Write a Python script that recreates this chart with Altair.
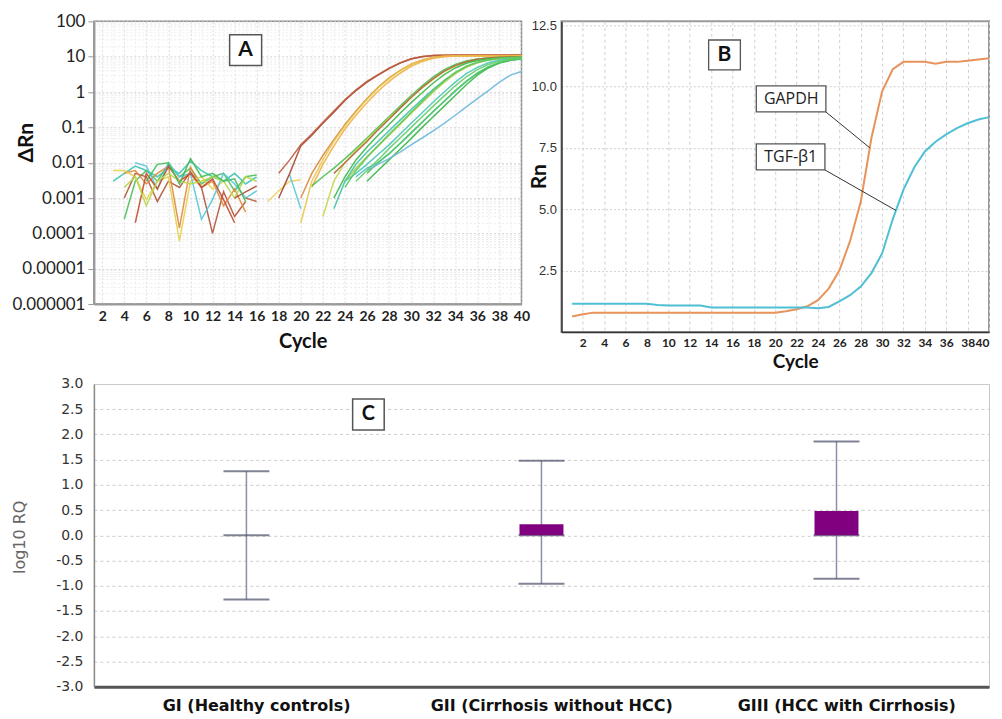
import altair as alt
import pandas as pd

# ---------------- Panel A : amplification plot (log dRn) ----------------
amp_names = ["a1", "a2", "a3", "a4", "a5", "a6", "a7", "a8", "a9", "a10",
             "a11", "a12", "a13", "a14", "a15", "a16", "a17", "a18"]
amp_start = [18, 18, 20, 20, 21, 21, 22, 23, 23, 23, 24, 24, 24, 25, 26, 26, 26, 25]
amp_values = [
    [0.001, 0.005, 0.03, 0.06, 0.13, 0.27, 0.58, 1.1, 1.9, 3.0, 4.6, 6.6, 8.6, 10.0, 10.8, 11.0, 11.0, 10.9, 10.9, 10.9, 10.9, 10.9, 10.9],
    [0.005, 0.012, 0.032, 0.065, 0.14, 0.29, 0.6, 1.15, 2.0, 3.1, 4.7, 6.7, 8.7, 10.1, 10.8, 11.0, 11.1, 11.1, 11.1, 11.1, 11.1, 11.1, 11.1],
    [0.001, 0.005, 0.016, 0.045, 0.12, 0.29, 0.65, 1.35, 2.5, 4.1, 6.1, 8.1, 9.6, 10.4, 10.7, 10.8, 10.8, 10.8, 10.8, 10.8, 10.8],
    [0.0002, 0.003, 0.012, 0.04, 0.11, 0.27, 0.62, 1.3, 2.4, 4.0, 6.0, 8.0, 9.5, 10.3, 10.6, 10.7, 10.7, 10.7, 10.7, 10.7, 10.7],
    [0.002, 0.009, 0.03, 0.09, 0.22, 0.5, 1.05, 2.0, 3.4, 5.3, 7.3, 9.0, 10.0, 10.4, 10.5, 10.5, 10.5, 10.5, 10.5, 10.5],
    [0.0022, 0.004, 0.007, 0.013, 0.025, 0.05, 0.1, 0.2, 0.4, 0.8, 1.5, 2.7, 4.3, 6.0, 7.5, 8.6, 9.2, 9.5, 9.6, 9.6],
    [0.0003, 0.003, 0.01, 0.022, 0.045, 0.09, 0.18, 0.35, 0.7, 1.3, 2.3, 3.8, 5.5, 7.1, 8.3, 9.0, 9.4, 9.6, 9.6],
    [0.005, 0.01, 0.02, 0.04, 0.085, 0.17, 0.35, 0.7, 1.35, 2.4, 3.9, 5.6, 7.2, 8.4, 9.2, 9.6, 9.8, 9.8],
    [0.0005, 0.003, 0.009, 0.02, 0.04, 0.08, 0.16, 0.32, 0.62, 1.2, 2.1, 3.5, 5.2, 6.8, 8.0, 8.8, 9.2, 9.4],
    [0.001, 0.004, 0.012, 0.028, 0.06, 0.12, 0.25, 0.5, 0.95, 1.8, 3.1, 4.8, 6.5, 7.8, 8.7, 9.2, 9.5, 9.6],
    [0.003, 0.007, 0.015, 0.03, 0.06, 0.12, 0.25, 0.5, 1.0, 1.9, 3.3, 5.0, 6.7, 8.0, 8.8, 9.3, 9.5],
    [0.003, 0.005, 0.009, 0.017, 0.032, 0.065, 0.13, 0.26, 0.52, 1.0, 1.9, 3.3, 5.0, 6.7, 7.9, 8.7, 9.1],
    [0.002, 0.006, 0.014, 0.03, 0.065, 0.13, 0.27, 0.55, 1.1, 2.1, 3.6, 5.4, 7.0, 8.2, 9.0, 9.4, 9.6],
    [0.004, 0.007, 0.01, 0.018, 0.035, 0.07, 0.14, 0.28, 0.55, 1.05, 2.0, 3.4, 5.1, 6.7, 7.9, 8.6],
    [0.003, 0.006, 0.012, 0.024, 0.048, 0.1, 0.2, 0.4, 0.8, 1.6, 3.0, 4.8, 6.6, 7.9, 8.7],
    [0.005, 0.01, 0.018, 0.035, 0.07, 0.14, 0.28, 0.55, 1.1, 2.0, 3.4, 5.1, 6.8, 8.0, 8.8],
    [0.006, 0.009, 0.013, 0.02, 0.032, 0.05, 0.08, 0.13, 0.22, 0.38, 0.65, 1.1, 1.9, 3.0, 3.8],
    [0.003, 0.006, 0.012, 0.025, 0.05, 0.1, 0.2, 0.4, 0.78, 1.5, 2.7, 4.3, 6.0, 7.4, 8.4, 9.0],
]
amp_colors = ["#a8452f", "#bf5b3e", "#d98a3a", "#e6c64a", "#efb042", "#4cbf52",
              "#c6d64e", "#b0663c", "#3fc0a6", "#38b848", "#a6cf44", "#48c6b2",
              "#5cc860", "#4fbfc6", "#36b646", "#52c65a", "#6cb8dc", "#66cc66"]

base_names = ["b1", "b2", "b3", "b4", "b5", "b6", "b7", "b8", "b9", "b10", "b11", "b12", "b13"]
base_start = [3, 4, 4, 4, 3, 5, 5, 4, 14, 15, 6, 17, 19]
base_values = [
    [0.003, 0.005, 0.008, 0.006, 0.004, 0.007, 0.005, 0.011, 0.006, 0.004, 0.003, 0.005, 0.0025, 0.004],
    [0.00025, 0.003, 0.006, 0.003, 0.009, 0.004, 0.007, 0.0025, 0.004, 0.005, 0.0016, 0.004, 0.0045],
    [0.001, 0.005, 0.004, 0.0008, 0.003, 0.002, 0.0055, 0.002, 0.0001, 0.0015, 0.0003, 0.0008],
    [0.005, 0.006, 0.0025, 0.005, 0.008, 0.00014, 0.0075, 0.002, 0.003, 0.0006, 0.0018, 0.0004],
    [0.006, 0.006, 0.004, 0.0009, 0.003, 0.004, 0.00006, 0.003, 0.004, 0.0018, 0.003],
    [0.01, 0.008, 0.0018, 0.01, 0.004, 0.005, 0.00025, 0.0009, 0.005, 0.0025, 0.001, 0.0016],
    [0.0002, 0.005, 0.0018, 0.008, 0.003, 0.005, 0.002, 0.0035, 0.0009, 0.0002],
    [0.002, 0.004, 0.0006, 0.003, 0.005, 0.003, 0.0025, 0.003, 0.004, 0.003, 0.001, 0.004, 0.003],
    [0.001, 0.0015, 0.0022],
    [0.001, 0.0008],
    [0.003, 0.009, 0.01, 0.0025, 0.013, 0.004, 0.005, 0.003, 0.0035, 0.0008],
    [0.0008, 0.0016, 0.003, 0.0033],
    [0.0045, 0.0005],
]
base_colors = ["#3cc4b4", "#4cbf5a", "#b0553a", "#e08a3c", "#e6d04c", "#58c6d8", "#c24a2e",
               "#b6d64e", "#a84c30", "#b06040", "#44bb55", "#f0d060", "#5cc8d8"]

# ---------------- Panel B : Rn curves ----------------
cycles_B = list(range(1, 41))
gapdh = [0.63, 0.72, 0.79, 0.79, 0.79, 0.79, 0.79, 0.79, 0.79, 0.79,
         0.79, 0.79, 0.79, 0.79, 0.79, 0.79, 0.79, 0.79, 0.79, 0.79,
         0.85, 0.93, 1.05, 1.3, 1.77, 2.5, 3.7, 5.3, 7.9, 9.8,
         10.7, 11.0, 11.0, 11.0, 10.92, 11.0, 11.0, 11.05, 11.1, 11.15]
tgfb1 = [1.15, 1.15, 1.15, 1.15, 1.15, 1.15, 1.15, 1.15, 1.1, 1.08,
         1.08, 1.08, 1.08, 1.0, 1.0, 1.0, 1.0, 1.0, 1.0, 1.0,
         1.0, 1.0, 1.0, 0.97, 1.02, 1.25, 1.5, 1.85, 2.4, 3.2,
         4.6, 5.8, 6.7, 7.35, 7.75, 8.05, 8.3, 8.5, 8.65, 8.75]
genes = ["GAPDH", "TGF-β1"]

# ---------------- Panel C : log10 RQ ----------------
groups = ["GI (Healthy controls)", "GII (Cirrhosis without HCC)", "GIII (HCC with Cirrhosis)"]
log_rq = [0.0, 0.22, 0.48]
err_low = [-1.27, -0.96, -0.86]
err_high = [1.27, 1.48, 1.86]

# ======================================================================
W_TOP = 428
rows = []
for name, start, vals in zip(base_names + amp_names, base_start + amp_start, base_values + amp_values):
    for i, v in enumerate(vals):
        rows.append({"trace": name, "cycle": start + i, "drn": v})
dfA = pd.DataFrame(rows)

decade = "abs(log(datum.value)/LN10 - round(log(datum.value)/LN10)) < 0.01"
yA_ticks = [m * 10.0 ** e for e in range(-6, 2) for m in range(1, 10)] + [100.0]

scale_xA = alt.Scale(domain=[1.25, 40], nice=False, zero=False)
axis_xA = alt.Axis(values=list(range(2, 41)),
                   labelExpr="datum.value % 2 == 0 ? '' + datum.value : ''",
                   labelFont="Lato", labelFontWeight="bold", labelFontSize=14,
                   labelColor="#222", labelPadding=5, labelOverlap=False, labelFlush=False, ticks=False,
                   gridColor={"condition": {"test": "datum.value % 2 == 0", "value": "#dcdcdc"}, "value": "#eeeeee"},
                   gridDash=[2, 2], domainColor="#9a9a9a", domainWidth=2,
                   title="Cycle", titleFont="Lato", titleFontSize=20, titleFontWeight="bold",
                   titleColor="#111", titleX=209, titleY=37, titleAlign="center", titleBaseline="middle")
scale_yA = alt.Scale(type="log", domain=[1e-6, 100], nice=False)
axis_yA = alt.Axis(values=yA_ticks,
                   labelExpr=decade + " ? format(datum.value, '.6~f') : ''",
                   labelFont="Lato", labelFontSize=17, labelColor="#222", labelPadding=3,
                   labelOverlap=False,
                   tickSize={"condition": {"test": decade, "value": 6}, "value": 0},
                   tickColor="#999",
                   gridColor={"condition": {"test": decade, "value": "#d4d4d4"}, "value": "#ececec"},
                   gridDash=[2, 2], domainColor="#9a9a9a", domainWidth=2,
                   title="ΔRn", titleFont="Lato", titleFontSize=21, titleFontWeight="bold",
                   titleColor="#111", titleX=-67, titleY=121, titleAlign="center",
                   titleBaseline="middle")


def XA(f):
    return alt.X(f, scale=scale_xA, axis=axis_xA)


def YA(f):
    return alt.Y(f, scale=scale_yA, axis=axis_yA)


linesA = alt.Chart(dfA).mark_line(strokeWidth=1.5, opacity=0.9).encode(
    x=XA("cycle:Q"), y=YA("drn:Q"), detail="trace:N",
    color=alt.Color("trace:N", scale=alt.Scale(domain=base_names + amp_names, range=base_colors + amp_colors), legend=None),
)
boxA_df = pd.DataFrame({"cycle": [13.55], "c2": [16.45], "drn": [42.0], "d2": [5.6], "cm": [15.0], "dm": [15.3], "t": ["A"]})
boxA = alt.Chart(boxA_df).mark_rect(fill="white", stroke="#555", strokeWidth=1.5).encode(
    x=XA("cycle:Q"), x2="c2:Q", y=YA("drn:Q"), y2="d2:Q")
textA = alt.Chart(boxA_df).mark_text(font="Lato", fontSize=21, fontWeight="bold", color="#111").encode(
    x=XA("cm:Q"), y=YA("dm:Q"), text="t:N")
chartA = alt.layer(linesA, boxA, textA).properties(
    width=W_TOP, height=283, view=alt.ViewBackground(stroke="#8a8a8a", strokeWidth=1.5))

# ---------------- B ----------------
dfB = pd.DataFrame({"cycle": cycles_B * 2, "rn": gapdh + tgfb1,
                    "gene": [genes[0]] * 40 + [genes[1]] * 40})
scale_xB = alt.Scale(domain=[0, 40], nice=False, zero=False)
axis_xB = alt.Axis(values=list(range(2, 41, 2)), labelFont="Lato", labelFontWeight="bold",
                   labelFontSize=12, labelColor="#222", labelPadding=5, labelOverlap=False,
                   labelFlush=True, ticks=False, gridColor="#d0d0d0", gridDash=[3, 3],
                   domainColor="#333", domainWidth=1.5,
                   title="Cycle", titleFont="Lato", titleFontSize=19, titleFontWeight="bold",
                   titleColor="#111", titleX=234, titleY=30, titleAlign="center", titleBaseline="middle")
scale_yB = alt.Scale(domain=[0, 12.65], nice=False)
axis_yB = alt.Axis(values=[2.5, 5.0, 7.5, 10.0, 12.5], format=".1f",
                   labelFont="Liberation Sans Narrow, Liberation Sans", labelFontSize=13,
                   labelColor="#333", labelPadding=5, ticks=False, labelOverlap=False,
                   gridColor="#cfcfcf", gridDash=[2, 2], domainColor="#333", domainWidth=1.5,
                   title="Rn", titleFont="Lato", titleFontSize=21, titleFontWeight="bold",
                   titleColor="#111", titleX=-22, titleY=155, titleAlign="center", titleBaseline="middle")


def XB(f):
    return alt.X(f, scale=scale_xB, axis=axis_xB)


def YB(f):
    return alt.Y(f, scale=scale_yB, axis=axis_yB)


linesB = alt.Chart(dfB).mark_line(strokeWidth=2).encode(
    x=XB("cycle:Q"), y=YB("rn:Q"), detail="gene:N",
    color=alt.Color("gene:N", scale=alt.Scale(domain=genes, range=["#e8935b", "#4fbfd5"]), legend=None))

annB = pd.DataFrame({
    "cycle": [13.77, 18.23, 18.23], "c2": [16.74, 24.74, 24.65],
    "rn": [11.89, 10.02, 7.66], "r2": [10.67, 8.96, 6.6],
    "cm": [15.25, 21.5, 21.45], "rm": [11.28, 9.49, 7.13],
    "t": ["B", "GAPDH", "TGF-β1"],
})
leadB = pd.DataFrame({"cycle": [24.74, 24.65], "c2": [28.85, 31.3], "rn": [8.96, 6.6], "r2": [7.5, 4.95]})
rectB = alt.Chart(annB).mark_rect(fill="white", stroke="#555", strokeWidth=1.3).encode(
    x=XB("cycle:Q"), x2="c2:Q", y=YB("rn:Q"), y2="r2:Q")
textB1 = alt.Chart(annB.iloc[[0]]).mark_text(font="Lato", fontSize=21, fontWeight="bold", color="#111").encode(
    x=XB("cm:Q"), y=YB("rm:Q"), text="t:N")
textB2 = alt.Chart(annB.iloc[[1, 2]]).mark_text(font="Open Sans", fontSize=16, color="#222").encode(
    x=XB("cm:Q"), y=YB("rm:Q"), text="t:N")
ruleB = alt.Chart(leadB).mark_rule(color="#333", strokeWidth=1).encode(
    x=XB("cycle:Q"), x2="c2:Q", y=YB("rn:Q"), y2="r2:Q")
chartB = alt.layer(linesB, ruleB, rectB, textB1, textB2).properties(
    width=W_TOP, height=311, view=alt.ViewBackground(stroke="#9a9a9a", strokeWidth=2))

# ---------------- C ----------------
dfC = pd.DataFrame({"group": groups, "pos": [i + 0.5 for i in range(len(groups))],
                    "rq": log_rq, "lo": err_low, "hi": err_high, "zero": [0.0] * len(groups)})
label_list = "[" + ", ".join("'" + g + "'" for g in groups) + "]"
scale_xC = alt.Scale(domain=[0, 3], nice=False, zero=False)
axis_xC = alt.Axis(values=[i + 0.533 for i in range(len(groups))],
                   labelExpr=label_list + "[floor(datum.value)]",
                   labelFont="DejaVu Sans", labelFontWeight="bold", labelFontSize=16, labelColor="#111",
                   labelPadding=11, labelLimit=400, labelOverlap=False, ticks=False, grid=False,
                   domainColor="#555", domainWidth=3, title=None)
yC_vals = [-3.0, -2.5, -2.0, -1.5, -1.0, -0.5, 0.0, 0.5, 1.0, 1.5, 2.0, 2.5, 3.0]
scale_yC = alt.Scale(domain=[-3, 3], nice=False)
axis_yC = alt.Axis(values=yC_vals,
                   labelExpr="(datum.value < 0 ? '-' : '') + format(abs(datum.value), '.1f')",
                   labelFont="DejaVu Sans", labelFontSize=14, labelColor="#333", labelPadding=11,
                   labelOverlap=False, ticks=False, gridColor="#cccccc", gridDash=[3, 3],
                   domainColor="#888", domainWidth=1.5,
                   title="log10 RQ", titleFont="DejaVu Sans", titleFontSize=16, titleFontWeight="normal",
                   titleColor="#666", titleX=-74, titleY=153, titleAlign="center", titleBaseline="middle")


def XC(f):
    return alt.X(f, scale=scale_xC, axis=axis_xC)


def YC(f):
    return alt.Y(f, scale=scale_yC, axis=axis_yC)


baseC = alt.Chart(dfC)
ruleC = baseC.mark_rule(color="#8a90aa", strokeWidth=1.5).encode(x=XC("pos:Q"), y=YC("lo:Q"), y2="hi:Q")
midC = baseC.mark_tick(orient="horizontal", size=46, thickness=2, color="#4a4e68").encode(
    x=XC("pos:Q"), y=YC("zero:Q"))
barC = baseC.mark_bar(size=44, color="#800080").encode(x=XC("pos:Q"), y=YC("zero:Q"), y2="rq:Q")
capLo = baseC.mark_tick(orient="horizontal", size=46, thickness=2, color="#4a4e68").encode(
    x=XC("pos:Q"), y=YC("lo:Q"))
capHi = baseC.mark_tick(orient="horizontal", size=46, thickness=2, color="#4a4e68").encode(
    x=XC("pos:Q"), y=YC("hi:Q"))
boxC_df = pd.DataFrame({"pos": [0.86], "p2": [0.967], "lo": [2.70], "l2": [2.09], "pm": [0.9135], "lm": [2.40], "t": ["C"]})
boxC = alt.Chart(boxC_df).mark_rect(fill="white", stroke="#555", strokeWidth=1.5).encode(
    x=XC("pos:Q"), x2="p2:Q", y=YC("lo:Q"), y2="l2:Q")
textC = alt.Chart(boxC_df).mark_text(font="Lato", fontSize=20, fontWeight="bold", color="#111").encode(
    x=XC("pm:Q"), y=YC("lm:Q"), text="t:N")
chartC = alt.layer(ruleC, midC, barC, capLo, capHi, boxC, textC).properties(
    width=2 * W_TOP + 40, height=303, view=alt.ViewBackground(stroke="#c8c8c8", strokeWidth=1))

top = alt.hconcat(chartA, chartB, spacing=40, bounds="flush").resolve_scale(color="independent")
chart = alt.vconcat(top, chartC, spacing=3).properties(
    padding={"left": 3, "top": 3, "right": 0, "bottom": 0},
    background="white",
)

chart.save("out.html", embed_options={"renderer": "svg", "actions": False})
